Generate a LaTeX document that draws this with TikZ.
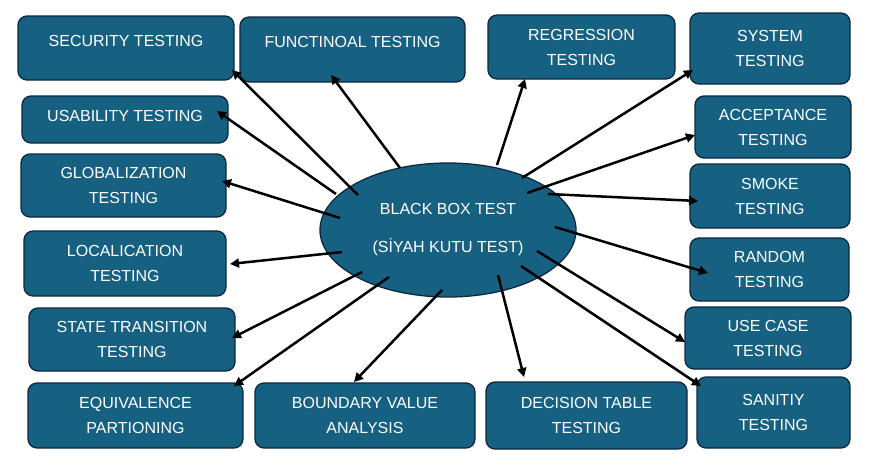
\documentclass[tikz,border=0pt]{standalone}
\usepackage{fontspec}
\setmainfont{Liberation Sans}
\usepackage{tikz}
\usetikzlibrary{arrows.meta, shapes.geometric}

\definecolor{boxblue}{HTML}{166082}
\definecolor{boxedge}{HTML}{0E2841}

\begin{document}
\begin{tikzpicture}[
    x=1pt, y=-1pt,
    testbox/.style={draw=boxedge, line width=1.3pt, rounded corners=9pt, fill=boxblue, text=white, align=center, font=\fontsize{16}{25}\selectfont, inner sep=0pt},
    center/.style={draw=boxedge, line width=1.3pt, ellipse, fill=boxblue, text=white, align=center, font=\fontsize{16}{25}\selectfont, inner sep=0pt},
    arrow/.style={-{Triangle[length=9pt, width=9pt]}, line width=2.5pt}
]
\useasboundingbox (0,0) rectangle (893,471);

% Center
\node[center, minimum width=256pt, minimum height=134pt] (ell) at (448,230) {BLACK BOX TEST\\[13pt](SİYAH KUTU TEST)};

% Left column
\node[testbox, minimum width=216pt, minimum height=64pt, text height=11pt, text depth=14pt] (sec) at (126,48) {SECURITY TESTING};
\node[testbox, minimum width=225pt, minimum height=65pt, text height=11pt, text depth=15pt] (fun) at (352.5,49.5) {FUNCTINOAL TESTING};
\node[testbox, minimum width=206pt, minimum height=47pt, text height=11pt, text depth=7pt] (usa) at (125,119.5) {USABILITY TESTING};
\node[testbox, minimum width=205pt, minimum height=63pt] (glo) at (123.5,185.5) {GLOBALIZATION\\TESTING};
\node[testbox, minimum width=202pt, minimum height=65pt] (loc) at (125,263.5) {LOCALICATION\\TESTING};
\node[testbox, minimum width=206pt, minimum height=63pt] (sta) at (132,339.5) {STATE TRANSITION\\TESTING};
\node[testbox, minimum width=215pt, minimum height=65pt] (equ) at (135.5,415.5) {EQUIVALENCE\\PARTIONING};

% Bottom
\node[testbox, minimum width=220pt, minimum height=65pt] (bou) at (365,415.5) {BOUNDARY VALUE\\ANALYSIS};
\node[testbox, minimum width=201pt, minimum height=67pt] (dec) at (586.5,415.5) {DECISION TABLE\\TESTING};

% Right column
\node[testbox, minimum width=187pt, minimum height=64pt] (reg) at (581.5,47) {REGRESSION\\TESTING};
\node[testbox, minimum width=160pt, minimum height=71pt] (sys) at (770,48.5) {SYSTEM\\TESTING};
\node[testbox, minimum width=156pt, minimum height=62pt] (acc) at (773,127) {ACCEPTANCE\\TESTING};
\node[testbox, minimum width=160pt, minimum height=64pt] (smo) at (770,196) {SMOKE\\TESTING};
\node[testbox, minimum width=159pt, minimum height=63pt] (ran) at (769.5,269.5) {RANDOM\\TESTING};
\node[testbox, minimum width=166pt, minimum height=62pt] (use) at (768,338) {USE CASE\\TESTING};
\node[testbox, minimum width=153pt, minimum height=71pt] (san) at (773.5,412.5) {SANITIY\\TESTING};

% Arrows to the left
\draw[arrow] ([shift={(-90,-35)}]ell.center) -- ([shift={(106,22)}]sec.center);
\draw[arrow] ([shift={(-48,-62)}]ell.center) -- ([shift={(-21.5,25.5)}]fun.center);
\draw[arrow] ([shift={(-112,-36)}]ell.center) -- ([shift={(92,-8.5)}]usa.center);
\draw[arrow] ([shift={(-108,-12)}]ell.center) -- ([shift={(98.5,-4.5)}]glo.center);
\draw[arrow] ([shift={(-106,22)}]ell.center) -- ([shift={(105,0.5)}]loc.center);
\draw[arrow] ([shift={(-86,42)}]ell.center) -- ([shift={(100,-1.5)}]sta.center);
\draw[arrow] ([shift={(-59,47)}]ell.center) -- ([shift={(98.5,-29.5)}]equ.center);

% Arrows down
\draw[arrow] ([shift={(-6,60)}]ell.center) -- ([shift={(-11,-33.5)}]bou.center);
\draw[arrow] ([shift={(50,45)}]ell.center) -- ([shift={(-62.5,-38.5)}]dec.center);

% Arrows to the right
\draw[arrow] ([shift={(49,-65)}]ell.center) -- ([shift={(-56.5,32)}]reg.center);
\draw[arrow] ([shift={(74,-52)}]ell.center) -- ([shift={(-77,21.5)}]sys.center);
\draw[arrow] ([shift={(79,-37)}]ell.center) -- ([shift={(-78,8)}]acc.center);
\draw[arrow] ([shift={(100,-36)}]ell.center) -- ([shift={(-72,5)}]smo.center);
\draw[arrow] ([shift={(107,-3)}]ell.center) -- ([shift={(-61.5,3.5)}]ran.center);
\draw[arrow] ([shift={(89,21)}]ell.center) -- ([shift={(-83,4)}]use.center);
\draw[arrow] ([shift={(73,36)}]ell.center) -- ([shift={(-72.5,-26.5)}]san.center);

\end{tikzpicture}
\end{document}
